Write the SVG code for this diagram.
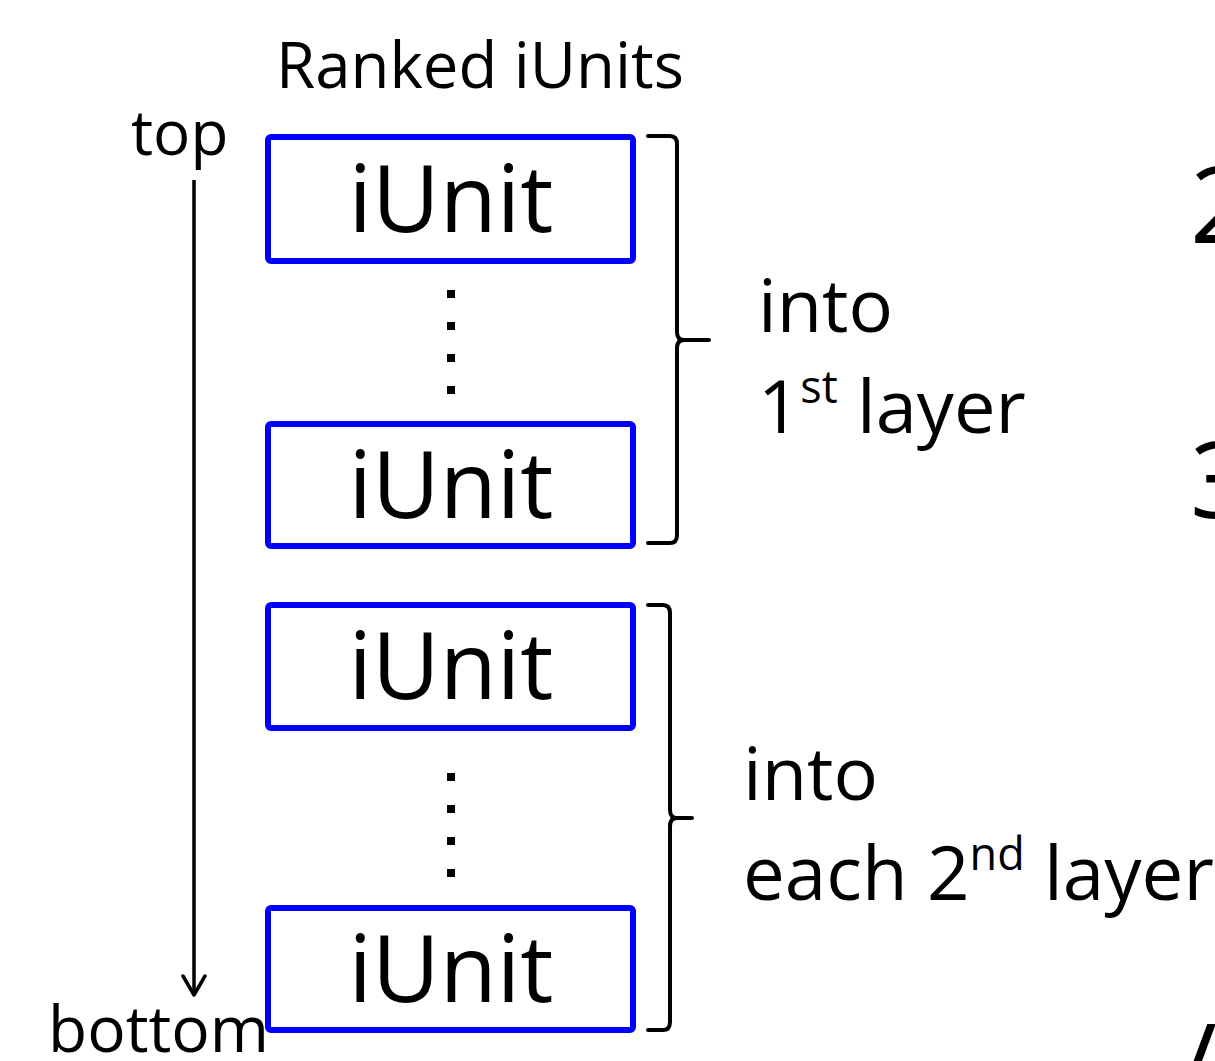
<svg xmlns="http://www.w3.org/2000/svg" width="1215" height="1061" viewBox="0 0 1215 1061">
<style>
.t{font-family:"Open Sans","Noto Sans",sans-serif;fill:#000}
.box{fill:#fff;stroke:#0000ff;stroke-width:6}
.unit{font-family:"Open Sans","Noto Sans",sans-serif;font-size:93px;fill:#000;text-anchor:middle}
.br{fill:none;stroke:#000;stroke-width:4;stroke-linejoin:round;stroke-linecap:round}
.dot{fill:#000}
</style>
<defs>
<marker id="ah" markerWidth="24" markerHeight="28" refX="21" refY="14" orient="auto" markerUnits="userSpaceOnUse" viewBox="0 0 24 28">
<path d="M2,3 L21,14 L2,25" fill="none" stroke="#000" stroke-width="3.5" stroke-linecap="round" stroke-linejoin="round"/>
</marker>
</defs>
<rect width="1215" height="1061" fill="#fff"/>
<text class="t" x="276" y="88" font-size="63.5">Ranked iUnits</text>
<text class="t" x="131" y="155" font-size="62">top</text>
<text class="t" x="48" y="1052" font-size="64">bottom</text>
<g id="connectors">
<line x1="194" y1="180" x2="194" y2="995" stroke="#000" stroke-width="3.5" marker-end="url(#ah)"/>
</g>
<g id="unit1"><rect class="box" x="268" y="137" width="365" height="124" rx="3"/><text class="unit" x="451" y="232">iUnit</text></g>
<g id="dots1"><rect class="dot" x="447" y="290" width="8" height="8"/><rect class="dot" x="447" y="322" width="8" height="8"/><rect class="dot" x="447" y="354" width="8" height="8"/><rect class="dot" x="447" y="386" width="8" height="8"/></g>
<g id="unit2"><rect class="box" x="268" y="424" width="365" height="122" rx="3"/><text class="unit" x="451" y="518">iUnit</text></g>
<g id="unit3"><rect class="box" x="268" y="605" width="365" height="123" rx="3"/><text class="unit" x="451" y="699">iUnit</text></g>
<g id="dots2"><rect class="dot" x="447" y="773" width="8" height="8"/><rect class="dot" x="447" y="805" width="8" height="8"/><rect class="dot" x="447" y="837" width="8" height="8"/><rect class="dot" x="447" y="869" width="8" height="8"/></g>
<g id="unit4"><rect class="box" x="268" y="908" width="365" height="122" rx="3"/><text class="unit" x="451" y="1002">iUnit</text></g>
<g id="brace1"><path class="br" d="M648,136 L670,136 Q677,136 677,144 L677,332 Q677,340 684,340 L709,340 M684,340 Q677,340 677,348 L677,535 Q677,543 670,543 L648,543"/></g>
<g id="brace2"><path class="br" d="M648,605 L663,605 Q670,605 670,613 L670,810 Q670,818 677,818 L692,818 M677,818 Q670,818 670,826 L670,1022 Q670,1030 663,1030 L648,1030"/></g>
<text class="t" x="758" y="332" font-size="74">into</text>
<text class="t" x="758" y="433" font-size="74">1<tspan font-size="45" dy="-30">st</tspan><tspan dy="30"> layer</tspan></text>
<text class="t" x="743" y="800" font-size="74">into</text>
<text class="t" x="743" y="900" font-size="74.5">each 2<tspan font-size="45" dy="-30">nd</tspan><tspan dy="30"> layer</tspan></text>
<text class="t" x="1190" y="243" font-size="106">2</text>
<text class="t" x="1190" y="518" font-size="106">3</text>
<text class="t" x="1178" y="1100" font-size="106">/</text>
</svg>
